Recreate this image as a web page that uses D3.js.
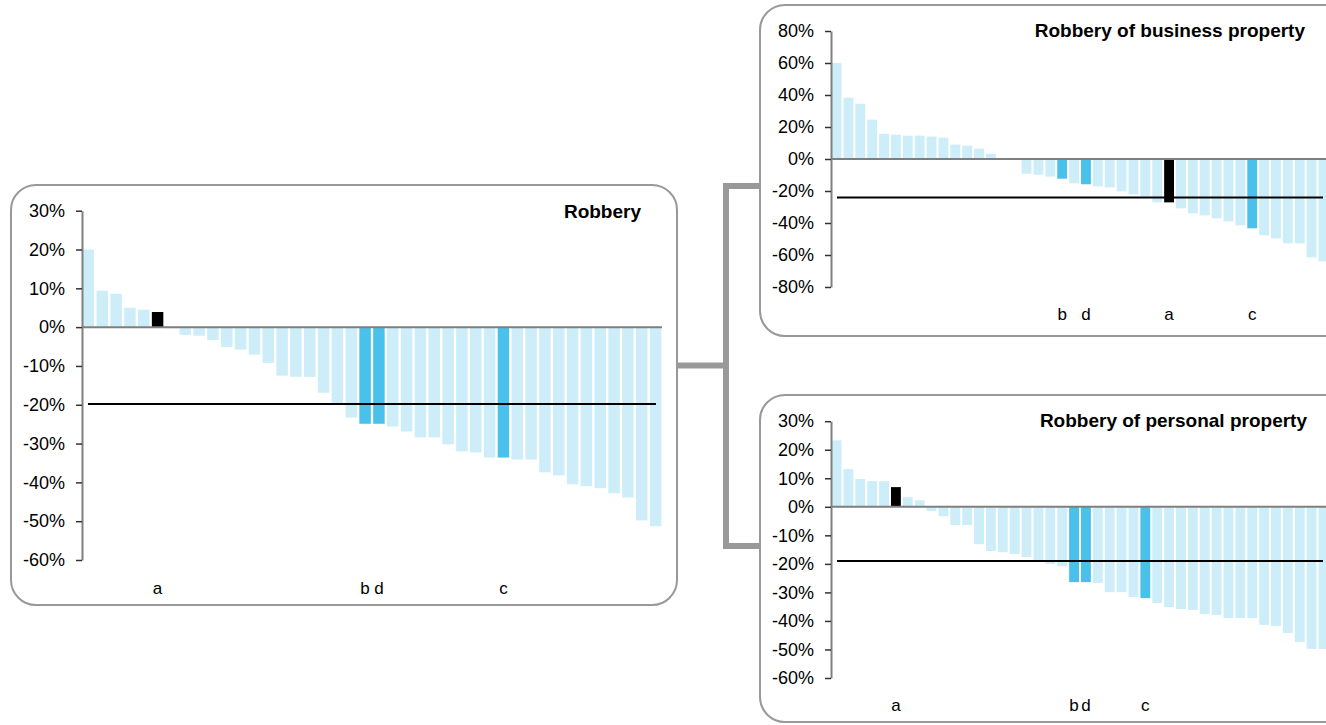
<!DOCTYPE html>
<html>
<head>
<meta charset="utf-8">
<script src="https://cdn.jsdelivr.net/npm/d3@7/dist/d3.min.js"></script>
<style>
  html, body { margin: 0; padding: 0; background: #fff; }
  svg { display: block; font-family: "Liberation Sans", Arial, sans-serif; }
</style>
</head>
<body>
<svg id="chart" width="1326" height="725"></svg>
<script>
// ---------- DATA ----------
const robberyValues = [20, 9.4, 8.6, 5.0, 4.5, 3.9, -0.3, -2.0, -2.2, -3.3, -5.1, -5.8, -7.1, -9.2,
  -12.5, -12.8, -12.8, -16.9, -19.8, -23.3, -24.9, -24.9, -25.6, -26.9, -28.4, -28.4, -30.2, -32.0,
  -32.3, -33.6, -33.6, -34.1, -34.1, -37.4, -38.2, -40.5, -41.0, -41.5, -42.8, -43.9, -49.8, -51.3];
const robberyLabels = ["", "", "", "", "", "a", "", "", "", "", "", "", "", "",
  "", "", "", "", "", "", "b", "d", "", "", "", "", "", "",
  "", "", "c", "", "", "", "", "", "", "", "", "", "", ""];
const robberyAverage = -19.8;
const robberyTicks = [30, 20, 10, 0, -10, -20, -30, -40, -50, -60];

const businessValues = [60, 38.3, 34.6, 24.6, 15.8, 15.2, 14.6, 14.6, 14.0, 13.3, 9.0, 8.3, 6.5, 3.3,
  0, 0, -9.2, -9.8, -11.0, -12.3, -15.2, -15.8, -17.1, -17.7, -20.2, -22.1, -23.3, -27.1,
  -27.1, -30.8, -34.0, -35.2, -37.1, -39.0, -41.5, -43.3, -47.7, -49.6, -52.7, -52.7, -61.5, -64.0];
const businessLabels = ["", "", "", "", "", "", "", "", "", "", "", "", "", "",
  "", "", "", "", "", "b", "", "d", "", "", "", "", "", "",
  "a", "", "", "", "", "", "", "c", "", "", "", "", "", ""];
const businessAverage = -24.0;
const businessTicks = [80, 60, 40, 20, 0, -20, -40, -60, -80];

const personalValues = [23.3, 13.2, 9.7, 9.0, 9.0, 6.9, 3.4, 2.3, -1.5, -3.3, -6.4, -6.4, -13.1, -15.5,
  -15.9, -16.6, -17.6, -18.7, -20.0, -20.8, -26.4, -26.4, -26.7, -29.9, -29.9, -31.6, -32.0, -33.7,
  -35.1, -35.8, -36.2, -37.6, -37.9, -39.0, -39.0, -39.0, -41.4, -41.8, -44.2, -47.4, -49.8, -49.8];
const personalLabels = ["", "", "", "", "", "a", "", "", "", "", "", "", "", "",
  "", "", "", "", "", "", "b", "d", "", "", "", "", "c", "",
  "", "", "", "", "", "", "", "", "", "", "", "", "", ""];
const personalAverage = -19.0;
const personalTicks = [30, 20, 10, 0, -10, -20, -30, -40, -50, -60];

// ---------- STYLE ----------
const COL_LIGHT = "#cdedf9";
const COL_DARK = "#49c1ea";
const COL_A = "#000000";
const BORDER = "#999999";

const svg = d3.select("#chart");

// Panel frames
function frame(x, y, w, h) {
  svg.append("rect").attr("x", x).attr("y", y).attr("width", w).attr("height", h)
    .attr("rx", 25).attr("ry", 25)
    .attr("fill", "#fff").attr("stroke", BORDER).attr("stroke-width", 2);
}
frame(11, 185, 666, 420);
frame(760, 5, 600, 331);
frame(760, 395, 600, 327);

// Connector
svg.append("path")
  .attr("d", "M677,365.5 L726,365.5 M726,183 L726,549 M723,186 L760,186 M723,546 L760,546")
  .attr("fill", "none").attr("stroke", BORDER).attr("stroke-width", 6);

function drawPanel(cfg) {
  const g = svg.append("g");
  const idx = cfg.values.map((d, i) => i);
  const x = d3.scaleBand().domain(idx).range([cfg.x0, cfg.x1]).paddingInner(0.17).paddingOuter(0.05);
  const y = d3.scaleLinear().domain([cfg.ticks[cfg.ticks.length - 1], cfg.ticks[0]]).range([cfg.yBottom, cfg.yTop]);

  const color = (i) => {
    const l = cfg.labels[i];
    if (l === "a") return COL_A;
    if (l) return COL_DARK;
    return COL_LIGHT;
  };

  // bars
  g.selectAll("rect.bar").data(cfg.values).join("rect")
    .attr("class", "bar")
    .attr("x", (d, i) => x(i))
    .attr("width", x.bandwidth())
    .attr("y", d => y(Math.max(0, d)))
    .attr("height", d => Math.abs(y(d) - y(0)))
    .attr("fill", (d, i) => color(i));

  // zero line
  g.append("line").attr("x1", cfg.x0).attr("x2", cfg.zeroEnd)
    .attr("y1", y(0)).attr("y2", y(0))
    .attr("stroke", "#7f7f7f").attr("stroke-width", 2);

  // average line
  g.append("line").attr("x1", cfg.x0 + 6).attr("x2", cfg.avgEnd)
    .attr("y1", y(cfg.average)).attr("y2", y(cfg.average))
    .attr("stroke", "#000").attr("stroke-width", 2);

  // y axis
  const axis = d3.axisLeft(y).tickValues(cfg.ticks).tickSizeInner(6).tickSizeOuter(0)
    .tickPadding(11).tickFormat(d => d + "%");
  const ag = g.append("g").attr("transform", `translate(${cfg.x0},0)`).call(axis);
  ag.select(".domain").attr("stroke", "#808080").attr("stroke-width", 2);
  ag.selectAll(".tick line").attr("stroke", "#333").attr("stroke-width", 1.5);
  ag.selectAll(".tick text").attr("fill", "#000").style("font-size", "18px")
    .style("font-family", "'Liberation Sans', Arial, sans-serif");

  // category labels
  g.selectAll("text.cat").data(cfg.labels).join("text")
    .attr("class", "cat")
    .attr("x", (d, i) => x(i) + x.bandwidth() / 2)
    .attr("y", cfg.labelY)
    .attr("text-anchor", "middle")
    .style("font-size", "17px")
    .text(d => d);

  // title
  g.append("text").attr("x", cfg.titleX).attr("y", cfg.titleY)
    .attr("text-anchor", "end")
    .style("font-size", "19px").style("font-weight", "bold")
    .text(cfg.title);
}

drawPanel({
  values: robberyValues, labels: robberyLabels, average: robberyAverage, ticks: robberyTicks,
  x0: 82, x1: 662, zeroEnd: 662, avgEnd: 656, yTop: 210.7, yBottom: 560,
  labelY: 594, title: "Robbery", titleX: 641, titleY: 218
});
drawPanel({
  values: businessValues, labels: businessLabels, average: businessAverage, ticks: businessTicks,
  x0: 831, x1: 1329, zeroEnd: 1326, avgEnd: 1323, yTop: 31, yBottom: 287,
  labelY: 320, title: "Robbery of business property", titleX: 1305, titleY: 37
});
drawPanel({
  values: personalValues, labels: personalLabels, average: personalAverage, ticks: personalTicks,
  x0: 831, x1: 1329, zeroEnd: 1326, avgEnd: 1323, yTop: 421.2, yBottom: 678,
  labelY: 711, title: "Robbery of personal property", titleX: 1307, titleY: 427
});
</script>
</body>
</html>
